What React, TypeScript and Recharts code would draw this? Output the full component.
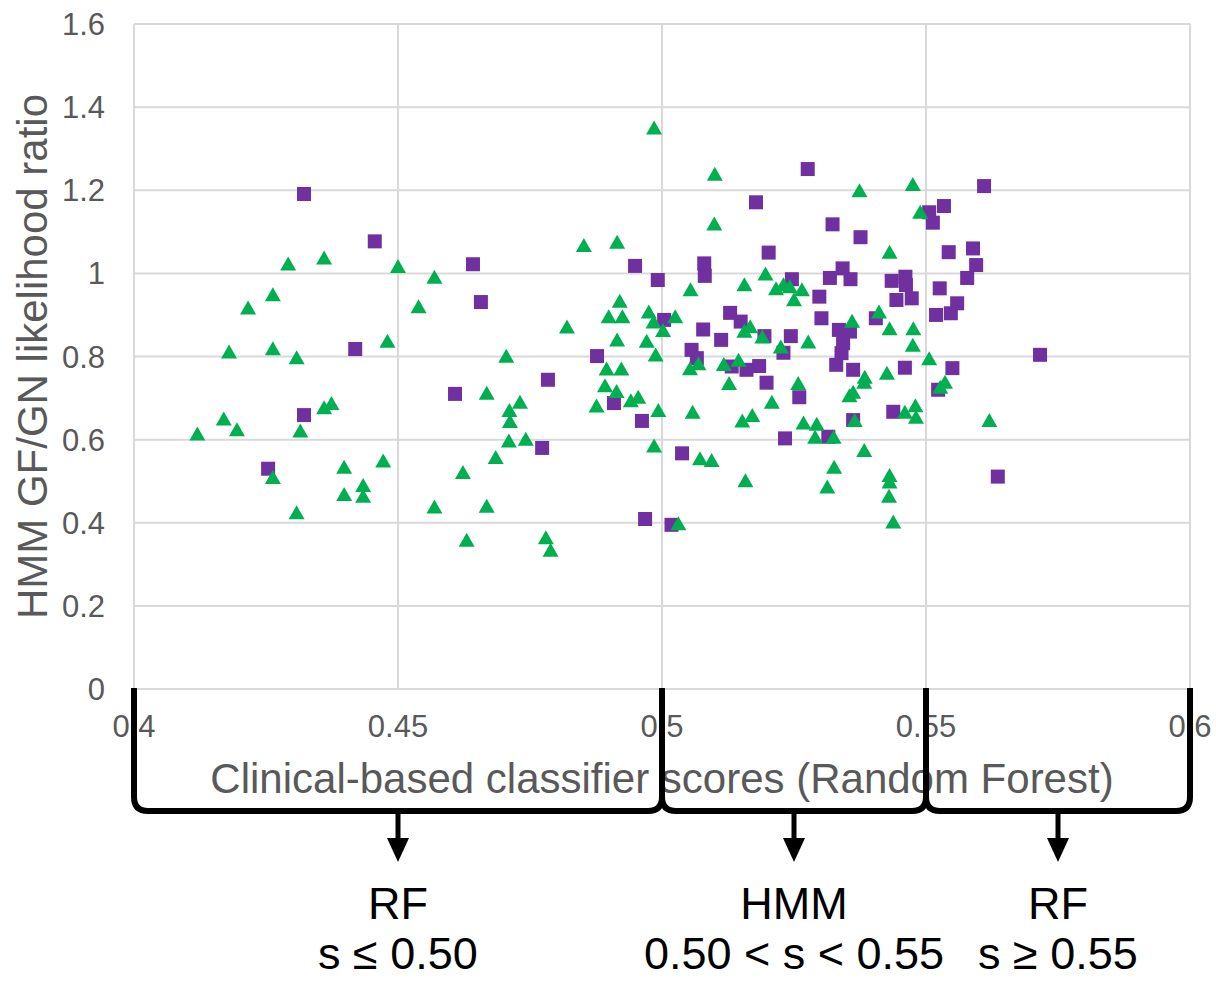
import { ScatterChart, Scatter, XAxis, YAxis, CartesianGrid } from "recharts";

// classifier score (x) / likelihood ratio (y), green triangles
const triangleScores = [
  0.412, 0.417, 0.418, 0.4195, 0.4216, 0.4263, 0.4263, 0.4263, 0.4292, 0.4308,
  0.4308, 0.4315, 0.436, 0.436, 0.4374, 0.4398, 0.4398, 0.4434, 0.4434, 0.4472,
  0.448, 0.45, 0.4539, 0.4569, 0.4569, 0.4623, 0.463, 0.4668, 0.4668, 0.4685,
  0.4705, 0.4711, 0.4712, 0.471, 0.4731, 0.4742, 0.478, 0.4789, 0.482, 0.4852,
  0.4876, 0.4892, 0.4895, 0.4899, 0.4914, 0.4915, 0.4915, 0.492, 0.4923, 0.4925,
  0.4941, 0.4955, 0.4971, 0.4975, 0.4984, 0.4985, 0.4985, 0.4988, 0.4993, 0.5002,
  0.5025, 0.5031, 0.5053, 0.5054, 0.5058, 0.5069, 0.5072, 0.5094, 0.5099, 0.51,
  0.5117, 0.5127, 0.5145, 0.5152, 0.5156, 0.5156, 0.5158, 0.5167, 0.5171, 0.519,
  0.5196, 0.5208, 0.5216, 0.5225, 0.523, 0.5242, 0.525, 0.5258, 0.5265, 0.5268,
  0.5277, 0.5293, 0.529, 0.5313, 0.5325, 0.5326, 0.5355, 0.536, 0.5362, 0.5365,
  0.5374, 0.5383, 0.5384, 0.5383, 0.5411, 0.5426, 0.5431, 0.5431, 0.5431, 0.5431,
  0.543, 0.5438, 0.546, 0.5475, 0.5475, 0.5476, 0.548, 0.5481, 0.5489, 0.5506,
  0.5527, 0.5536, 0.562,
];
const triangleRatios = [
  0.615, 0.651, 0.812, 0.625, 0.918, 0.95, 0.82, 0.51, 1.024, 0.798,
  0.425, 0.622, 1.038, 0.678, 0.688, 0.535, 0.469, 0.491, 0.465, 0.55,
  0.838, 1.018, 0.921, 0.992, 0.439, 0.522, 0.359, 0.713, 0.441, 0.558,
  0.802, 0.671, 0.645, 0.598, 0.691, 0.602, 0.365, 0.335, 0.872, 1.068,
  0.682, 0.731, 0.771, 0.897, 0.717, 1.076, 0.841, 0.934, 0.771, 0.897,
  0.695, 0.703, 0.838, 0.908, 0.884, 1.351, 0.586, 0.805, 0.671, 0.864,
  0.897, 0.399, 0.772, 0.962, 0.667, 0.784, 0.555, 0.551, 1.12, 1.24,
  0.782, 0.736, 0.792, 0.646, 0.974, 0.862, 0.502, 0.873, 0.659, 0.848,
  1.0, 0.691, 0.964, 0.824, 0.974, 0.969, 0.938, 0.736, 0.962, 0.641,
  0.836, 0.638, 0.607, 0.487, 0.607, 0.535, 0.707, 0.886, 0.715, 0.647,
  1.2, 0.739, 0.751, 0.575, 0.908, 0.761, 1.052, 0.868, 0.515, 0.499,
  0.465, 0.403, 0.667, 1.215, 0.828, 0.868, 0.683, 0.655, 1.148, 0.796,
  0.727, 0.739, 0.647,
];

// purple squares
const squareScores = [
  0.4254, 0.4322, 0.4322, 0.4419, 0.4456, 0.4608, 0.4642, 0.4657, 0.4773, 0.4784,
  0.4877, 0.4909, 0.4949, 0.4962, 0.4968, 0.4992, 0.5004, 0.5018, 0.5038, 0.5056,
  0.5066, 0.5078, 0.508, 0.5081, 0.5112, 0.5129, 0.5132, 0.5149, 0.516, 0.5178,
  0.5184, 0.5194, 0.5198, 0.5202, 0.5233, 0.523, 0.5244, 0.5246, 0.526, 0.5276,
  0.5298, 0.5302, 0.5315, 0.5318, 0.5323, 0.533, 0.5335, 0.534, 0.5343, 0.5342,
  0.5357, 0.5356, 0.5362, 0.5362, 0.5376, 0.5405, 0.5435, 0.5438, 0.5444, 0.546,
  0.5461, 0.5462, 0.5473, 0.5506, 0.5513, 0.5519, 0.5523, 0.5526, 0.5534, 0.5543,
  0.5547, 0.555, 0.5559, 0.5578, 0.5589, 0.5595, 0.561, 0.5636, 0.5716,
];
const squareRatios = [
  0.53, 1.191, 0.659, 0.818, 1.077, 0.71, 1.022, 0.931, 0.58, 0.744,
  0.801, 0.688, 1.018, 0.645, 0.409, 0.984, 0.888, 0.395, 0.567, 0.816,
  0.796, 0.865, 1.024, 0.994, 0.84, 0.905, 0.776, 0.884, 0.768, 1.171,
  0.777, 0.849, 0.737, 1.05, 0.603, 0.809, 0.849, 0.986, 0.702, 1.251,
  0.944, 0.892, 0.607, 0.989, 1.118, 0.78, 0.864, 0.808, 0.832, 1.012,
  0.986, 0.86, 0.768, 0.647, 1.087, 0.892, 0.982, 0.667, 0.936, 0.773,
  0.992, 0.972, 0.94, 1.147, 1.122, 0.9, 0.72, 0.964, 1.162, 1.051,
  0.904, 0.772, 0.928, 0.989, 1.06, 1.02, 1.21, 0.511, 0.804,
];

const xTicks = [0.4, 0.45, 0.5, 0.55, 0.6];
const yTicks = [0, 0.2, 0.4, 0.6, 0.8, 1, 1.2, 1.4, 1.6];

// decision regions under the x axis
const regionBounds = [0.4, 0.5, 0.55, 0.6];
const regionModels = ["RF", "HMM", "RF"];
const regionRules = ["s \u2264 0.50", "0.50 < s < 0.55", "s \u2265 0.55"];

const triangleData = triangleScores.map((x, i) => ({ x, y: triangleRatios[i] }));
const squareData = squareScores.map((x, i) => ({ x, y: squareRatios[i] }));

const W = 1216;
const H = 981;
const margin = { top: 24, right: 26, left: 0, bottom: 180 };
const yAxisWidth = 134;
const xAxisHeight = 112;
const plotLeft = margin.left + yAxisWidth;
const plotWidth = W - plotLeft - margin.right;
const plotBottom = H - margin.bottom - xAxisHeight;
const xDomain = [0.4, 0.6];
const xPix = (v: number) =>
  plotLeft + ((v - xDomain[0]) / (xDomain[1] - xDomain[0])) * plotWidth;

const FONT = "'Liberation Sans', Arial, sans-serif";
const GRAY = "#595959";

const Square = (p: any) => (
  <rect x={p.cx - 7} y={p.cy - 7} width={14} height={14} fill="#7030A0" />
);
const Triangle = (p: any) => (
  <polygon
    points={`${p.cx},${p.cy - 7} ${p.cx + 8},${p.cy + 7} ${p.cx - 8},${p.cy + 7}`}
    fill="#00B050"
  />
);

function Regions() {
  const top = plotBottom - 1;
  const bot = 811;
  return (
    <svg
      width={W}
      height={H}
      style={{ position: "absolute", left: 0, top: 0, pointerEvents: "none" }}
    >
      {regionModels.map((m, i) => {
        const a = xPix(regionBounds[i]);
        const b = xPix(regionBounds[i + 1]);
        const mid = (a + b) / 2;
        return (
          <g key={i}>
            <path
              d={`M${a},${top} L${a},${bot - 14} Q${a},${bot} ${a + 14},${bot} L${b - 14},${bot} Q${b},${bot} ${b},${bot - 14} L${b},${top}`}
              fill="none"
              stroke="#000"
              strokeWidth={6}
            />
            <line x1={mid} y1={bot} x2={mid} y2={842} stroke="#000" strokeWidth={5} />
            <polygon points={`${mid - 11},${838} ${mid + 11},${838} ${mid},${862}`} fill="#000" />
            <text x={mid} y={919} textAnchor="middle" fontSize={45} fontFamily={FONT} fill="#000">
              {m}
            </text>
            <text x={mid} y={969} textAnchor="middle" fontSize={45} fontFamily={FONT} fill="#000">
              {regionRules[i]}
            </text>
          </g>
        );
      })}
    </svg>
  );
}

export default function App() {
  return (
    <div style={{ position: "absolute", left: 0, top: 0, width: W, height: H, background: "#fff" }}>
      <ScatterChart width={W} height={H} margin={margin}>
        <CartesianGrid stroke="#d9d9d9" strokeWidth={2} />
        <XAxis
          type="number"
          dataKey="x"
          domain={xDomain}
          ticks={xTicks}
          interval={0}
          height={xAxisHeight}
          axisLine={false}
          tickLine={false}
          tickSize={0}
          tickMargin={26}
          tick={{ fill: GRAY, fontSize: 31, fontFamily: FONT }}
          label={{
            content: (p: any) => (
              <text
                x={p.viewBox.x + p.viewBox.width / 2}
                y={p.viewBox.y + p.viewBox.height - 8}
                textAnchor="middle"
                fontSize={42}
                fontFamily={FONT}
                fill={GRAY}
              >
                Clinical-based classifier scores (Random Forest)
              </text>
            ),
          }}
        />
        <YAxis
          type="number"
          dataKey="y"
          domain={[0, 1.6]}
          ticks={yTicks}
          interval={0}
          width={yAxisWidth}
          axisLine={false}
          tickLine={false}
          tickSize={0}
          tickMargin={29}
          tick={{ fill: GRAY, fontSize: 31, fontFamily: FONT }}
          label={{
            content: (p: any) => {
              const x = p.viewBox.x + 47;
              const y = p.viewBox.y + p.viewBox.height / 2;
              return (
                <text
                  x={x}
                  y={y}
                  transform={`rotate(-90 ${x} ${y})`}
                  textAnchor="middle"
                  fontSize={42}
                  fontFamily={FONT}
                  fill={GRAY}
                >
                  HMM GF/GN likelihood ratio
                </text>
              );
            },
          }}
        />
        <Scatter data={squareData} shape={Square} isAnimationActive={false} />
        <Scatter data={triangleData} shape={Triangle} isAnimationActive={false} />
      </ScatterChart>
      <Regions />
    </div>
  );
}
